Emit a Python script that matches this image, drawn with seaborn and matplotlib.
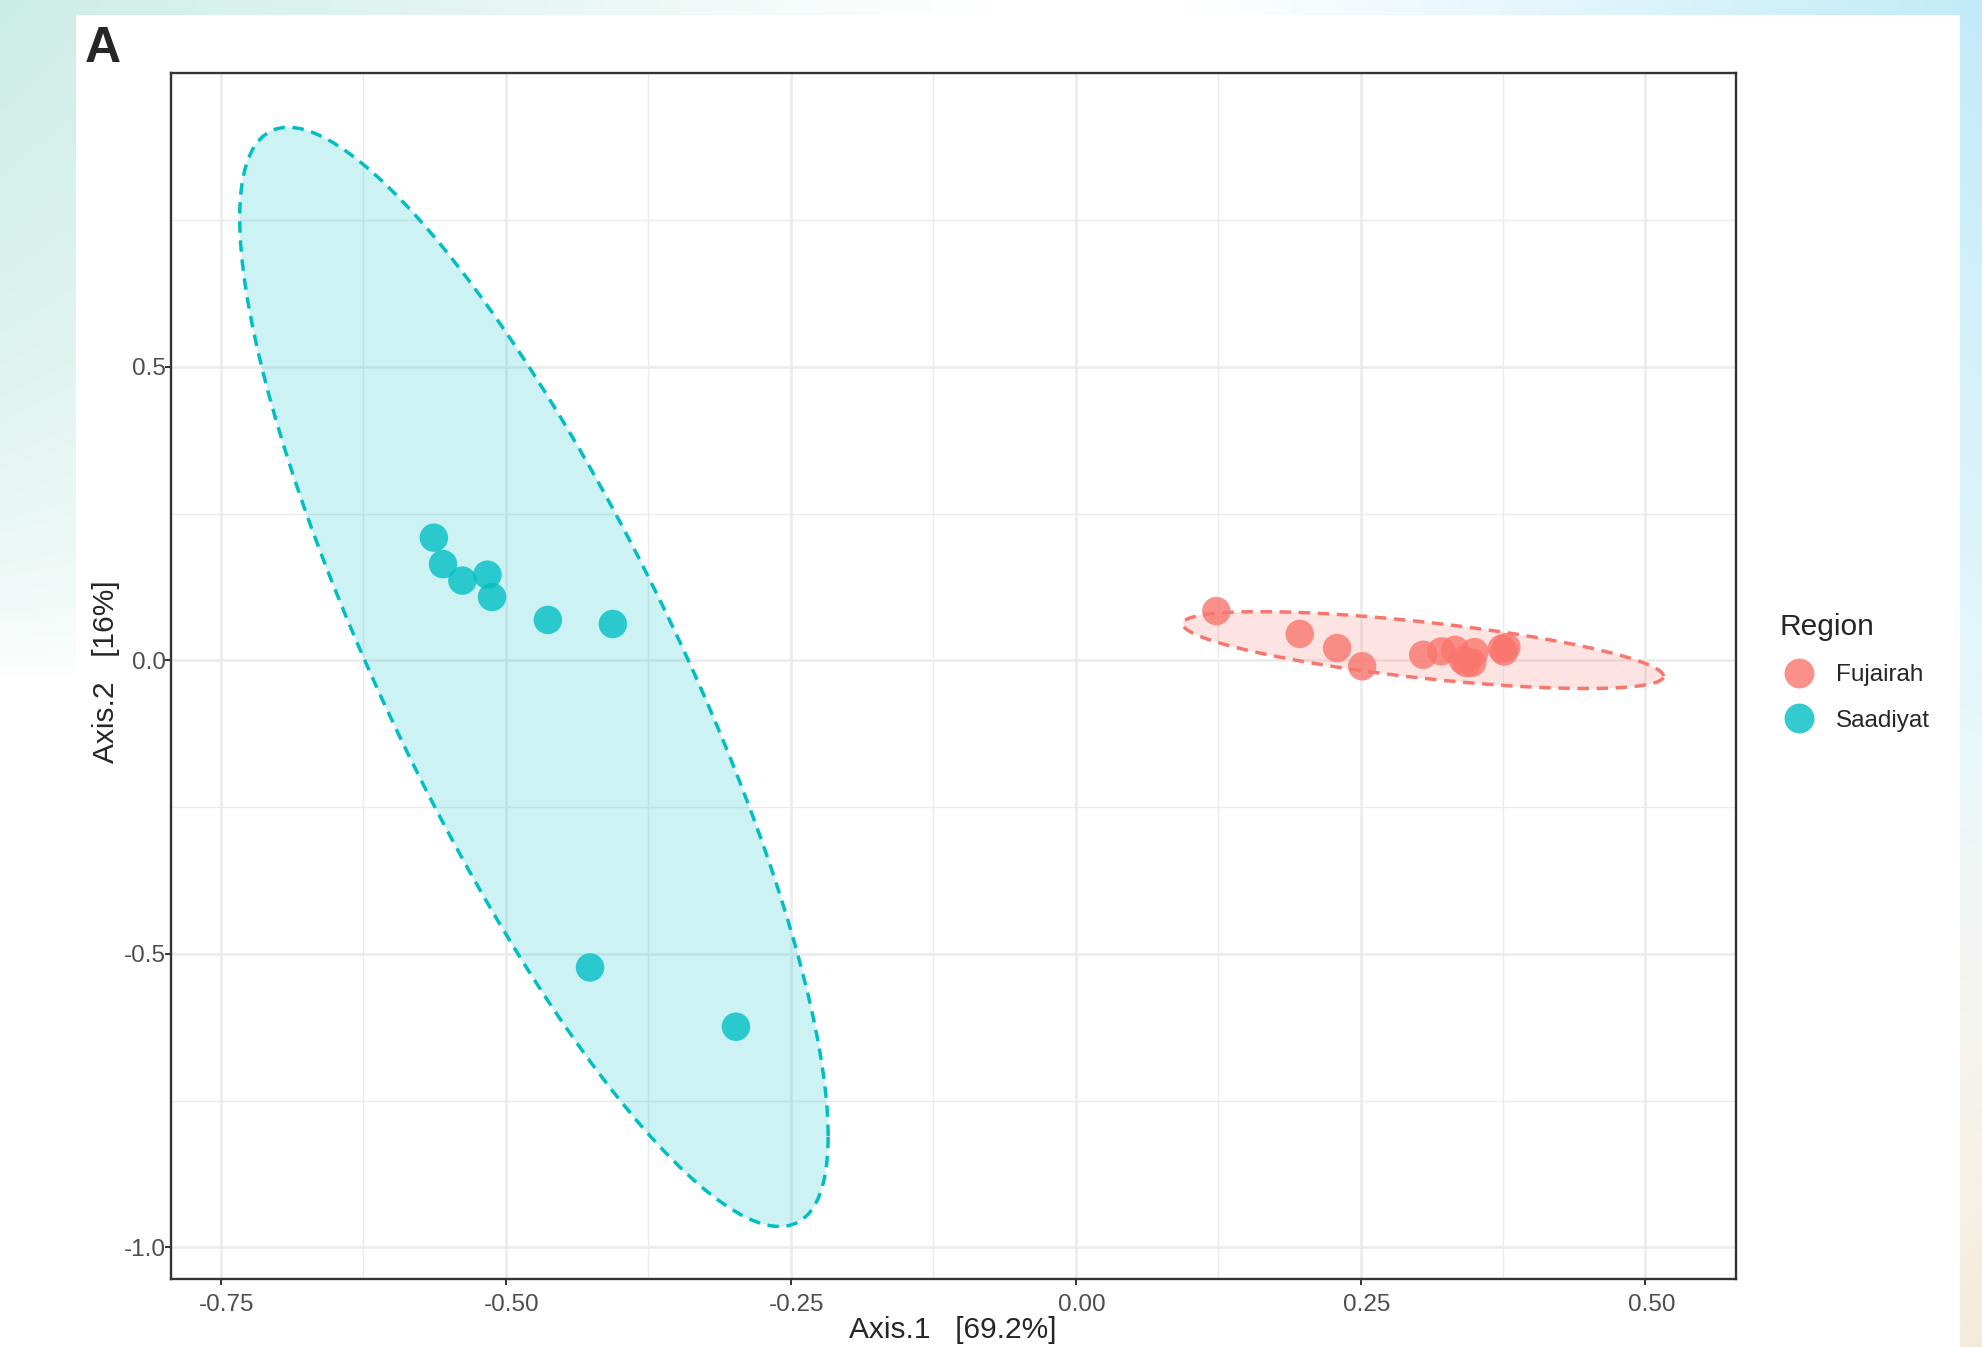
import numpy as np
import pandas as pd
import seaborn as sns
import matplotlib.pyplot as plt
from matplotlib.patches import Rectangle
from matplotlib.transforms import ScaledTranslation

# PCoA coordinates (some Fujairah samples overlap)
fujairah_x = [0.1235, 0.1967, 0.2295, 0.2515, 0.305, 0.321, 0.333, 0.343, 0.350,
              0.374, 0.378, 0.340, 0.348, 0.376]
fujairah_y = [0.084, 0.045, 0.021, -0.010, 0.0096, 0.0153, 0.018, -0.0045, 0.0142,
              0.020, 0.0227, 0.000, -0.004, 0.015]
saadiyat_x = [-0.563, -0.555, -0.538, -0.516, -0.512, -0.463, -0.406, -0.426, -0.298]
saadiyat_y = [0.209, 0.164, 0.136, 0.146, 0.108, 0.069, 0.062, -0.523, -0.624]

regions = ['Fujairah', 'Saadiyat']
region_colors = ['#F8766D', '#00BFC4']
x_ticks = [-0.75, -0.50, -0.25, 0.00, 0.25, 0.50]
x_tick_labels = ['-0.75', '-0.50', '-0.25', '0.00', '0.25', '0.50']
y_ticks = [-1.0, -0.5, 0.0, 0.5]
y_tick_labels = ['-1.0', '-0.5', '0.0', '0.5']
x_label = 'Axis.1   [69.2%]'
y_label = 'Axis.2   [16%]'

df = pd.DataFrame({
    'Axis.1': fujairah_x + saadiyat_x,
    'Axis.2': fujairah_y + saadiyat_y,
    'Region': ['Fujairah'] * len(fujairah_x) + ['Saadiyat'] * len(saadiyat_x),
})
palette = dict(zip(regions, region_colors))


def norm_ellipse(x, y, level=0.95, segments=120):
    # same construction as ggplot2 stat_ellipse(type = "norm")
    pts = np.column_stack([x, y])
    n = len(pts)
    loc = pts.mean(axis=0)
    cov = np.cov(pts, rowvar=False)
    d2 = n - 1
    fq = d2 / 2 * ((1 - level) ** (-2 / d2) - 1)  # F(2, d2) quantile
    radius = np.sqrt(2 * fq)
    ang = np.linspace(0, 2 * np.pi, segments)
    circle = np.column_stack([np.cos(ang), np.sin(ang)])
    L = np.linalg.cholesky(cov)
    ell = loc + radius * circle @ L.T
    return ell[:, 0], ell[:, 1]


sns.set_style('whitegrid')
plt.rcParams['font.family'] = ['Liberation Sans', 'DejaVu Sans']

W, H = 1982, 1347
fig = plt.figure(figsize=(W / 100, H / 100), dpi=100)

# screenshot-like background with soft gradients
bg = fig.add_axes([0, 0, 1, 1], zorder=-10)
u, v = np.meshgrid(np.linspace(0, 1, 300), np.linspace(0, 1, 200))
mint = np.clip(1 - u / 0.5, 0, 1) * np.clip(1 - v / 0.5, 0, 1) ** 0.6
cyan = np.clip((u - 0.6) / 0.4, 0, 1) * np.clip(1 - v / 0.9, 0, 1)
beige = np.clip((u - 0.8) / 0.2, 0, 1) * np.clip((v - 0.55) / 0.45, 0, 1)
img = np.ones((200, 300, 3))
for wgt, col in [(mint, (0.80, 0.93, 0.90)), (cyan, (0.76, 0.92, 0.97)), (beige, (0.96, 0.92, 0.86))]:
    img = img * (1 - wgt[..., None]) + wgt[..., None] * np.array(col)
bg.imshow(img, extent=[0, 1, 0, 1], aspect='auto', interpolation='bilinear')
bg.set_axis_off()
fig.patches.append(Rectangle((76 / W, 0), (1960 - 76) / W, 1 - 15 / H,
                             transform=fig.transFigure, facecolor='white',
                             edgecolor='none', zorder=-5))

ax = fig.add_axes([170.6 / W, 1 - 1279.2 / H, (1735.5 - 170.6) / W, (1279.2 - 73.3) / H])
ax.set_facecolor('white')

# ellipses (filled part under the points)
outlines = {}
for reg, xs, ys in [('Fujairah', fujairah_x, fujairah_y), ('Saadiyat', saadiyat_x, saadiyat_y)]:
    ex, ey = norm_ellipse(np.array(xs), np.array(ys))
    outlines[reg] = (ex, ey)
    ax.fill(ex, ey, color=palette[reg], alpha=0.2, lw=0, zorder=1)

sns.scatterplot(data=df, x='Axis.1', y='Axis.2', hue='Region', hue_order=regions,
                palette=palette, s=420, alpha=0.8, edgecolor=None, linewidth=0,
                ax=ax, zorder=2)

for reg in regions:
    ex, ey = outlines[reg]
    ax.plot(ex, ey, color=palette[reg], lw=2.5, ls=(0, (3.3, 2.2)), zorder=3)

ax.set_xlim(-0.794, 0.579)
ax.set_ylim(-1.054, 1.0)
ax.set_xticks(x_ticks)
ax.set_xticklabels(x_tick_labels)
ax.set_yticks(y_ticks)
ax.set_yticklabels(y_tick_labels)
ax.set_xticks([-0.625, -0.375, -0.125, 0.125, 0.375], minor=True)
ax.set_yticks([-0.75, -0.25, 0.25, 0.75], minor=True)
ax.grid(which='major', color='#ebebeb', lw=1.8)
ax.grid(which='minor', color='#ebebeb', lw=1.0)
ax.tick_params(which='major', direction='out', length=4.5, width=1.4, color='#333333',
               labelsize=17.5, labelcolor='#4d4d4d', bottom=True, left=True)
ax.tick_params(axis='x', pad=6)
ax.tick_params(axis='y', pad=-1)
ax.tick_params(which='minor', length=0)
ax.set_axisbelow(True)
for lab in ax.get_xticklabels():
    lab.set_transform(lab.get_transform() + ScaledTranslation(0.06, 0, fig.dpi_scale_trans))
for sp in ax.spines.values():
    sp.set_color('#333333')
    sp.set_linewidth(1.7)
ax.set_xlabel('')
ax.set_ylabel('')

fig.text(0.5 * (170.6 + 1735.5) / W, 3 / H, x_label, ha='center', va='bottom', fontsize=21.5)
fig.text(106.5 / W, 1 - 672 / H, y_label, ha='center', va='center', rotation=90, fontsize=21.5)
fig.text(85 / W, 1 - 26 / H, 'A', ha='left', va='top', fontsize=36, fontweight='bold')

handles, labels = ax.get_legend_handles_labels()
leg = ax.legend(handles, labels, title='Region', loc='upper left',
                bbox_to_anchor=(1758 / W, 1 - 591 / H), bbox_transform=fig.transFigure,
                frameon=False, fontsize=17.5, title_fontsize=21.5, handlelength=1.6,
                handletextpad=0.72, labelspacing=0.96, alignment='left', markerscale=1.05)

fig.savefig('out.png', dpi=100)
